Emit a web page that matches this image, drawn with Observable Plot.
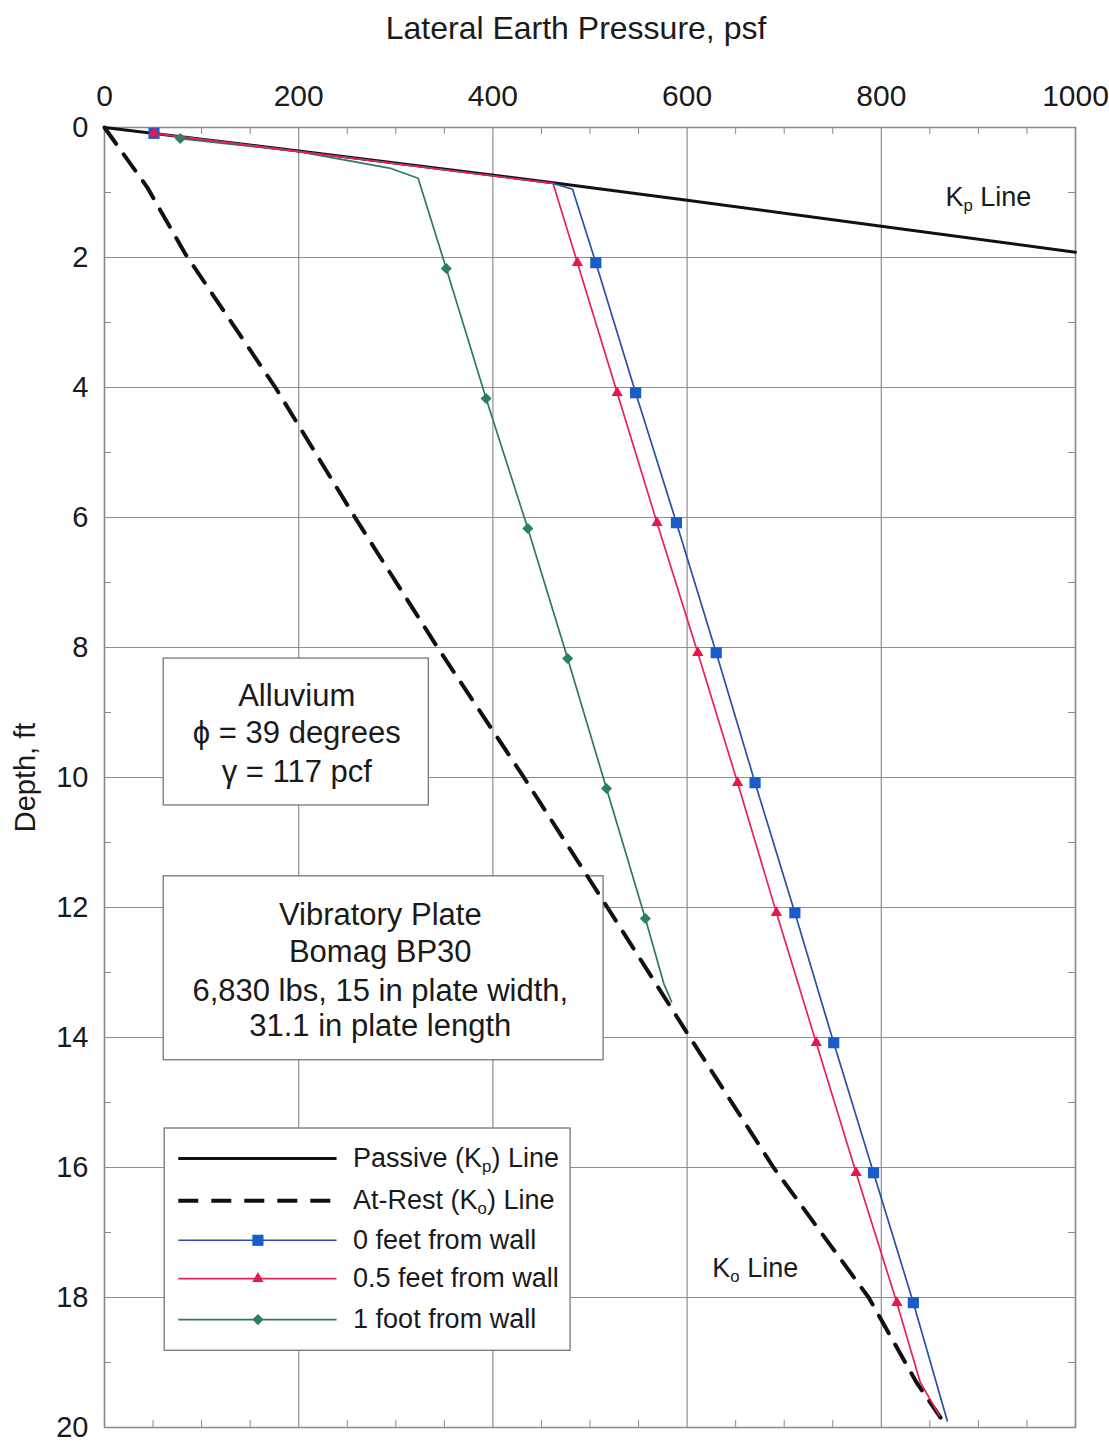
<!DOCTYPE html>
<html>
<head>
<meta charset="utf-8">
<script src="https://cdn.jsdelivr.net/npm/d3@7"></script>
<script src="https://cdn.jsdelivr.net/npm/@observablehq/plot@0.6"></script>
<style>
  html, body { margin: 0; padding: 0; background: #fff; }
  #chart svg { display: block; }
</style>
</head>
<body>
<div id="chart"></div>
<script>
// ---------- Data ----------
const xTicks = [0, 200, 400, 600, 800, 1000];
const yTicks = [0, 2, 4, 6, 8, 10, 12, 14, 16, 18, 20];
const xMinorTicks = [50, 100, 150, 250, 300, 350, 450, 500, 550, 650, 700, 750, 850, 900, 950];
const yMinorTicks = [1, 3, 5, 7, 9, 11, 13, 15, 17, 19];

// Passive (Kp) line
const passivePsf   = [0, 200, 462, 600, 800, 1000];
const passiveDepth = [0, 0.36, 0.85, 1.12, 1.52, 1.92];

// At-rest (Ko) line
const atRestPsf   = [0, 44, 83, 176, 258, 343, 432, 518, 603, 689, 787, 836, 868];
const atRestDepth = [0, 0.92, 1.94, 4, 6, 8, 10, 12, 14, 16, 18, 19.3, 20];

// 0 feet from wall
const wall0Psf    = [51, 462, 482, 506, 547, 589, 630, 670, 711, 751, 792, 833, 868];
const wall0Depth  = [0.09, 0.86, 0.95, 2.08, 4.08, 6.08, 8.08, 10.08, 12.08, 14.08, 16.08, 18.08, 19.9];
const wall0Marked = [1, 0, 0, 1, 1, 1, 1, 1, 1, 1, 1, 1, 0];

// 0.5 feet from wall
const wall05Psf    = [51, 462, 487, 528, 569, 611, 652, 692, 733, 774, 816, 840, 860];
const wall05Depth  = [0.09, 0.86, 2.08, 4.08, 6.08, 8.08, 10.08, 12.08, 14.08, 16.08, 18.08, 19.3, 19.82];
const wall05Marked = [1, 0, 1, 1, 1, 1, 1, 1, 1, 1, 1, 0, 0];

// 1 foot from wall
const wall1Psf    = [78, 200, 295, 323, 352, 393, 436, 477, 517, 557, 576, 584];
const wall1Depth  = [0.17, 0.37, 0.63, 0.78, 2.17, 4.17, 6.17, 8.17, 10.17, 12.17, 13.17, 13.45];
const wall1Marked = [1, 0, 0, 0, 1, 1, 1, 1, 1, 1, 0, 0];

// Texts
const titleText  = "Lateral Earth Pressure, psf";
const yLabelText = "Depth, ft";
const soilLines  = ["Alluvium", "ϕ = 39 degrees", "γ = 117 pcf"];
const plateLines = ["Vibratory Plate", "Bomag BP30", "6,830 lbs, 15 in plate width,", "31.1 in plate length"];
const legendLabels = ["Passive (K_p) Line", "At-Rest (K_o) Line", "0 feet from wall", "0.5 feet from wall", "1 foot from wall"];
const kpLabel = "K_p Line";
const koLabel = "K_o Line";

// ---------- Layout (annotation placement in data units) ----------
const LAYOUT = {
  soilBox:  {x1: 61, x2: 334, y1: 8.17, y2: 10.43, cx: 198, rows: [8.74, 9.32, 9.92]},
  plateBox: {x1: 61, x2: 514, y1: 11.52, y2: 14.35, cx: 284, rows: [12.12, 12.69, 13.28, 13.82]},
  legendBox:{x1: 62, x2: 480, y1: 15.4, y2: 18.82, lx1: 76, lx2: 239, mx: 158, tx: 256,
             rows: [15.86, 16.51, 17.12, 17.71, 18.34]},
  kp: {x: 866, y: 1.08},
  ko: {x: 626, y: 17.55}
};

// ---------- Styles ----------
const C = {
  grid: "#8e8e8e",
  frame: "#8a8a8a",
  black: "#111",
  blue: "#2a50a8", blueMark: "#1a5ccb",
  red: "#e9215a", redMark: "#e9164c",
  green: "#2f7a5e", greenMark: "#2b8062"
};

const toRows = (xs, ys, m) => xs.map((x, i) => ({psf: x, depth: ys[i], marked: m ? !!m[i] : false}));
const passive = toRows(passivePsf, passiveDepth);
const atRest  = toRows(atRestPsf, atRestDepth);
const wall0   = toRows(wall0Psf, wall0Depth, wall0Marked);
const wall05  = toRows(wall05Psf, wall05Depth, wall05Marked);
const wall1   = toRows(wall1Psf, wall1Depth, wall1Marked);

const W = 1109, H = 1442;
const mT = 127, mL = 104, mR = 34, mB = 15;
const frameW = W - mL - mR, frameH = H - mT - mB;

const L = LAYOUT.legendBox;
const legendSeries = [
  {stroke: C.black, width: 3, dash: null, symbol: null},
  {stroke: C.black, width: 4, dash: "20,13", symbol: null},
  {stroke: C.blue, width: 1.6, dash: null, symbol: "square", fill: C.blueMark, r: 6.3},
  {stroke: C.red, width: 1.6, dash: null, symbol: "triangle", fill: C.redMark, r: 4.2},
  {stroke: C.green, width: 1.6, dash: null, symbol: "diamond2", fill: C.greenMark, r: 5}
];
const legendMarks = [];
legendSeries.forEach((s, i) => {
  const row = [{x1: L.lx1, x2: L.lx2, y: L.rows[i], label: legendLabels[i]}];
  legendMarks.push(Plot.link(row, {x1: "x1", x2: "x2", y1: "y", y2: "y", stroke: s.stroke, strokeWidth: s.width, strokeDasharray: s.dash}));
  if (s.symbol) legendMarks.push(Plot.dot(row, {x: L.mx, y: "y", symbol: s.symbol, r: s.r, fill: s.fill, stroke: "none"}));
  legendMarks.push(Plot.text(row, {x: L.tx, y: "y", text: "label", textAnchor: "start", fontSize: 27, fill: "#1a1a1a"}));
});

const chart = Plot.plot({
  width: W, height: H,
  marginTop: mT, marginLeft: mL, marginRight: mR, marginBottom: mB,
  style: {fontFamily: "'Liberation Sans', Arial, Helvetica, sans-serif", background: "#fff", color: "#1a1a1a"},
  x: {domain: [0, 1000]},
  y: {domain: [0, 20], reverse: true},
  marks: [
    Plot.gridX(xTicks, {stroke: C.grid, strokeOpacity: 1, strokeWidth: 1.2}),
    Plot.gridY(yTicks, {stroke: C.grid, strokeOpacity: 1, strokeWidth: 1.2}),
    Plot.tickX(xMinorTicks, {x: d => d, stroke: C.frame, insetBottom: frameH - 7}),
    Plot.tickX(xMinorTicks, {x: d => d, stroke: C.frame, insetTop: frameH - 7}),
    Plot.tickY(yMinorTicks, {y: d => d, stroke: C.frame, insetRight: frameW - 7}),
    Plot.tickY(yMinorTicks, {y: d => d, stroke: C.frame, insetLeft: frameW - 7}),
    Plot.frame({stroke: C.frame, strokeWidth: 1.5}),

    // annotation boxes
    Plot.rect([LAYOUT.soilBox, LAYOUT.plateBox, L], {x1: "x1", x2: "x2", y1: "y1", y2: "y2", fill: "#fff", stroke: "#777", strokeWidth: 1.3}),
    Plot.text(soilLines.map((t, i) => ({t, y: LAYOUT.soilBox.rows[i]})), {x: LAYOUT.soilBox.cx, y: "y", text: "t", fontSize: 31, fill: "#1a1a1a"}),
    Plot.text(plateLines.map((t, i) => ({t, y: LAYOUT.plateBox.rows[i]})), {x: LAYOUT.plateBox.cx, y: "y", text: "t", fontSize: 31, fill: "#1a1a1a"}),
    ...legendMarks,

    // data lines
    Plot.line(passive, {x: "psf", y: "depth", stroke: C.black, strokeWidth: 3}),
    Plot.line(atRest, {x: "psf", y: "depth", stroke: C.black, strokeWidth: 4, strokeDasharray: "20,13"}),
    Plot.line(wall1, {x: "psf", y: "depth", stroke: C.green, strokeWidth: 1.7}),
    Plot.line(wall0, {x: "psf", y: "depth", stroke: C.blue, strokeWidth: 1.7}),
    Plot.line(wall05, {x: "psf", y: "depth", stroke: C.red, strokeWidth: 1.7}),
    Plot.dot(wall1.filter(d => d.marked), {x: "psf", y: "depth", symbol: "diamond2", r: 5, fill: C.greenMark}),
    Plot.dot(wall0.filter(d => d.marked), {x: "psf", y: "depth", symbol: "square", r: 6.3, fill: C.blueMark}),
    Plot.dot(wall05.filter(d => d.marked), {x: "psf", y: "depth", symbol: "triangle", r: 4.2, fill: C.redMark}),

    // line labels
    Plot.text([kpLabel], {x: LAYOUT.kp.x, y: LAYOUT.kp.y, textAnchor: "start", fontSize: 27, fill: "#1a1a1a"}),
    Plot.text([koLabel], {x: LAYOUT.ko.x, y: LAYOUT.ko.y, textAnchor: "start", fontSize: 27, fill: "#1a1a1a"}),

    // axes
    Plot.axisX({anchor: "top", ticks: xTicks, tickSize: 0, tickPadding: 22, fontSize: 30, label: null, tickFormat: d => String(d)}),
    Plot.axisY({anchor: "left", ticks: yTicks, tickSize: 0, tickPadding: 16, fontSize: 29, label: null, tickFormat: d => String(d)}),
    Plot.text([titleText], {frameAnchor: "top", lineAnchor: "middle", textAnchor: "middle", dy: -99, dx: -14, fontSize: 32, fill: "#1a1a1a"}),
    Plot.text([yLabelText], {frameAnchor: "left", lineAnchor: "middle", textAnchor: "middle", dx: -79, rotate: -90, fontSize: 29, fill: "#1a1a1a"})
  ]
});

// subscripts: "K_p" -> K with subscript p
chart.querySelectorAll("text").forEach(t => {
  const s = t.textContent;
  if (!/_\w/.test(s)) return;
  const parts = s.split(/_(\w)/);
  while (t.firstChild) t.removeChild(t.firstChild);
  parts.forEach((p, i) => {
    const ts = document.createElementNS("http://www.w3.org/2000/svg", "tspan");
    ts.textContent = p;
    if (i % 2 === 1) {
      ts.setAttribute("font-size", "62%");
      ts.setAttribute("baseline-shift", "-30%");
    }
    t.appendChild(ts);
  });
});

document.getElementById("chart").appendChild(chart);
</script>
</body>
</html>
